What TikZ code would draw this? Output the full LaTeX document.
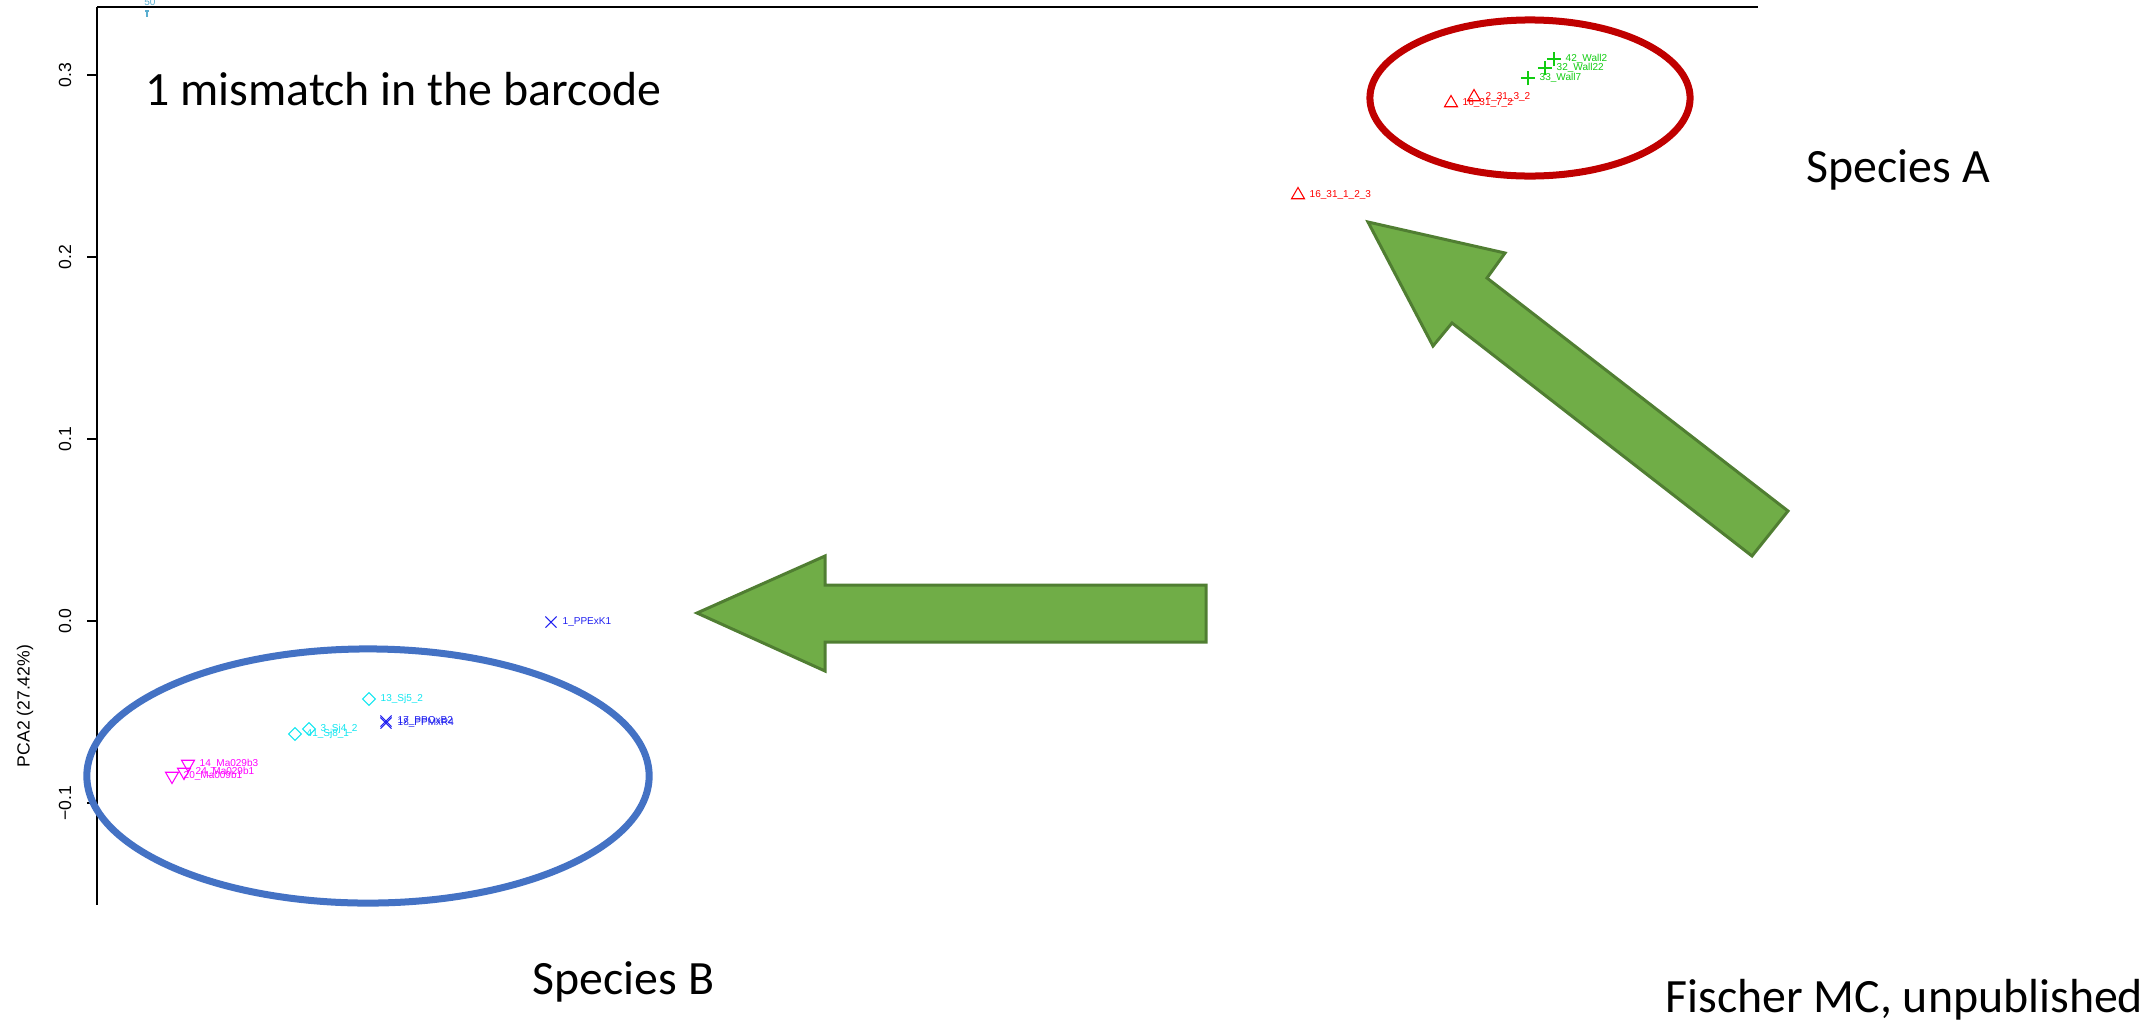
\documentclass[tikz,border=0pt]{standalone}
\usepackage{fontspec}
\setmainfont{Carlito}
\newfontfamily\rfont{Liberation Sans}
\usetikzlibrary{shapes.geometric,shapes.misc}
\definecolor{rojoosc}{HTML}{C00000}
\definecolor{azulel}{HTML}{4472C4}
\definecolor{verdefl}{HTML}{70AD47}
\definecolor{verdebd}{HTML}{507E32}
\definecolor{verdept}{HTML}{11CC11}
\definecolor{celeste}{HTML}{5AAED0}
\definecolor{azulpt}{HTML}{2020F0}
\definecolor{cianpt}{HTML}{11E6F0}
\definecolor{rojopt}{HTML}{FF0000}
\definecolor{magpt}{HTML}{FF00FF}
\begin{document}
\begin{tikzpicture}[
    x=0.01cm, y=-0.01cm,
    every node/.style={inner sep=0pt},
    texto/.style={font=\fontsize{13.6}{16}\selectfont,anchor=base west},
    eje/.style={font=\rfont\fontsize{5}{6}\selectfont,rotate=90},
    linea/.style={line width=0.55pt},
    etq/.style={font=\rfont\fontsize{2.85}{3.4}\selectfont,anchor=west},
    flecha/.style={fill=verdefl,draw=verdebd,line width=0.85pt},
    marca/.style={draw,line width=0.3pt,minimum size=0.15cm},
    triup/.style={marca,regular polygon,regular polygon sides=3,draw=rojopt},
    tridn/.style={triup,shape border rotate=180,draw=magpt},
    rombo/.style={marca,diamond,minimum size=0.13cm,draw=cianpt},
    cruz/.style={marca,cross out,minimum size=0.1cm,draw=azulpt},
    mas/.style={marca,cross out,rotate=45,minimum size=0.092cm,draw=verdept}]
    \useasboundingbox (0,0) rectangle (2139,1030);

    % Ejes del PCA.
    \draw[linea] (97,7) -- (97,905);
    \draw[linea] (97,7) -- (1758,7);
    \foreach \v/\yy in {0.3/75,0.2/257,0.1/439,0.0/621,−0.1/803} {
        \draw[linea] (87,\yy) -- (97,\yy);
        \node[eje] (tick\yy) at (65,\yy) {\v};
    }
    \node[eje] (pca2) at (25,706) {PCA2 (27.42\%)};

    % Puntos y etiquetas.
    \foreach \nm/\px/\py/\tx in {w42/1554/59/42\_Wall2,w32/1545/68/32\_Wall22,
        w33/1528/78/33\_Wall7} {
        \node[mas] (\nm) at (\px,\py) {};
        \node[etq,verdept] (\nm-t) at ([xshift=0.11cm]\nm.center) {\tx};
    }
    \foreach \nm/\px/\py/\tx in {r1/1298/195/16\_31\_1\_2\_3,r7/1451/103/16\_31\_7\_2,
        r3/1474/97/2\_31\_3\_2} {
        \node[triup] (\nm) at (\px,\py) {};
        \node[etq,rojopt] (\nm-t) at ([xshift=0.11cm]\nm.center) {\tx};
    }
    \foreach \nm/\px/\py/\tx in {b1/551/622/1\_PPExK1,b17/386/721/17\_PPOxB2,
        b18/386/723/18\_PPMxR4} {
        \node[cruz] (\nm) at (\px,\py) {};
        \node[etq,azulpt] (\nm-t) at ([xshift=0.11cm]\nm.center) {\tx};
    }
    \foreach \nm/\px/\py/\tx in {c13/369/699/13\_Sj5\_2,c3/309/729/3\_Sj4\_2,
        c41/295/734/41\_Sj8\_1} {
        \node[rombo] (\nm) at (\px,\py) {};
        \node[etq,cianpt] (\nm-t) at ([xshift=0.11cm]\nm.center) {\tx};
    }
    \foreach \nm/\px/\py/\tx in {m14/188/764/14\_Ma029b3,m24/184/772/24\_Ma029b1,
        m20/172/776/20\_Ma009b1} {
        \node[tridn] (\nm) at (\px,\py) {};
        \node[etq,magpt] (\nm-t) at ([xshift=0.11cm]\nm.center) {\tx};
    }
    \draw[celeste,line width=0.3pt] (147,11) -- (147,17) (145,11) -- (149,11);
    \node[etq,celeste,anchor=center] (cort) at (150,2) {50};

    % Agrupaciones de especies.
    \draw[rojoosc,line width=0.07cm] (1530,98) ellipse [x radius=1.6cm, y radius=0.78cm];
    \draw[azulel,line width=0.07cm] (368,776) ellipse [x radius=2.81cm, y radius=1.27cm];

    % Flechas.
    \draw[flecha] (697,613) -- (825,556) -- (825,585) -- (1206,585)
        -- (1206,642) -- (825,642) -- (825,671) -- cycle;
    \draw[flecha] (1368,222) -- (1505,253) -- (1487,278) -- (1788,511)
        -- (1752,556) -- (1452,323) -- (1433,346) -- cycle;

    \node[texto] (titulo) at (145,105) {1 mismatch in the barcode};
    \node[texto] (espA) at (1806,182) {Species A};
    \node[texto] (espB) at (532,994) {Species B};
    \node[texto] (fuente) at (1665,1012) {Fischer MC, unpublished};
\end{tikzpicture}
\end{document}
